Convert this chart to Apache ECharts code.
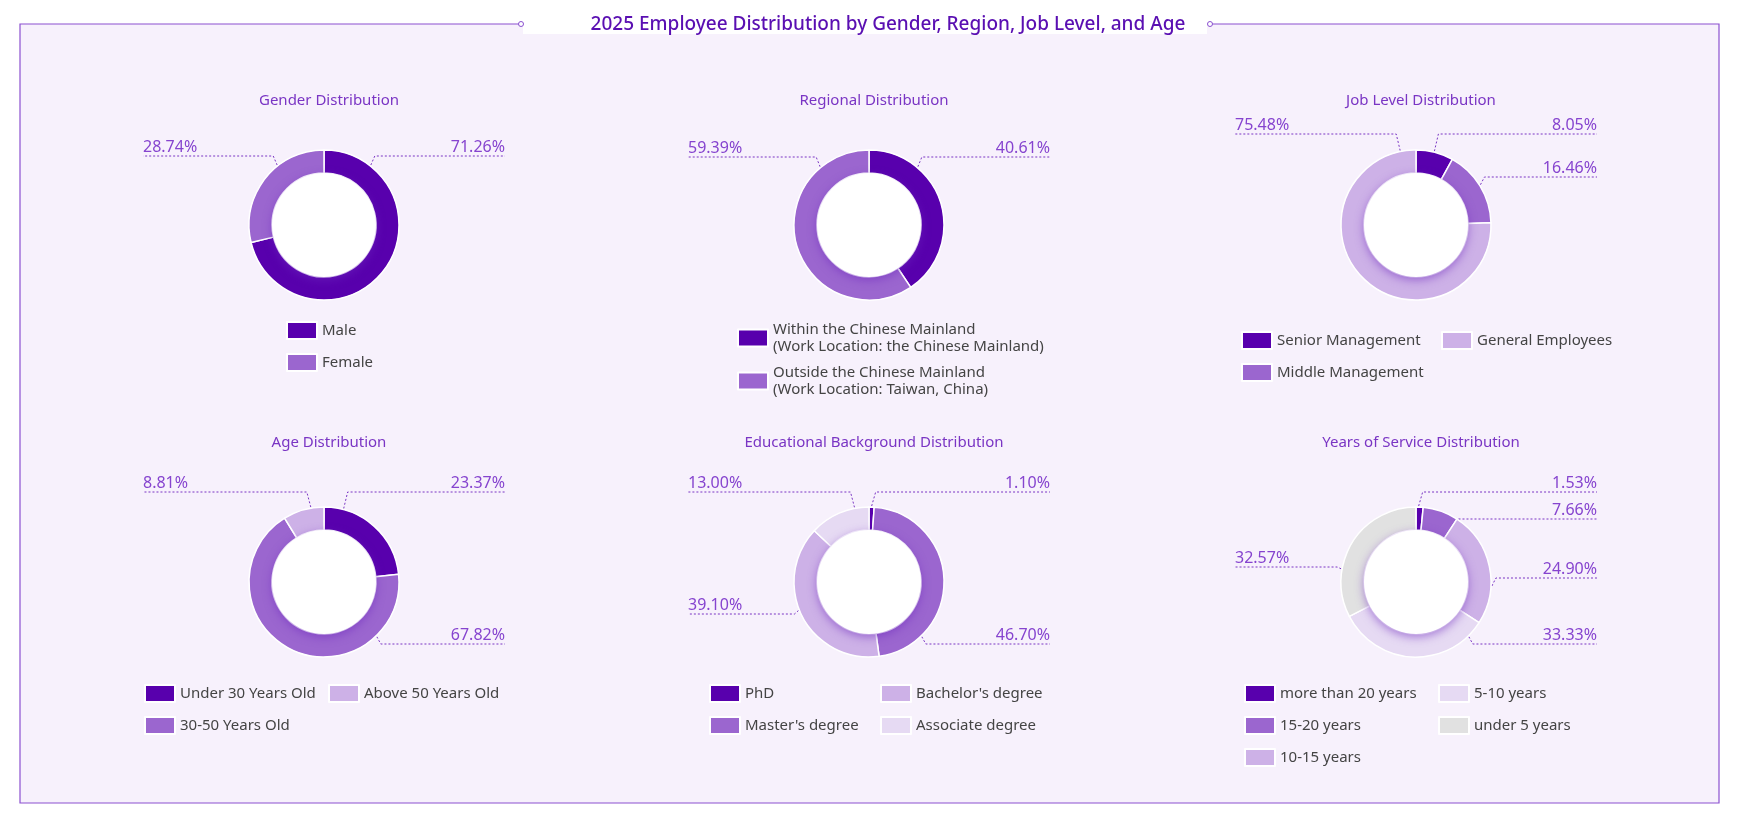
<!DOCTYPE html>
<html><head><meta charset="utf-8">
<script src="https://cdn.jsdelivr.net/npm/echarts@6/dist/echarts.min.js"></script>
<style>html,body{margin:0;padding:0;background:#fff}#c{width:1740px;height:817px}</style>
</head><body><div id="c"></div>
<script>
const mainTitle = '2025 Employee Distribution by Gender, Region, Job Level, and Age';
const genderNames = ['Male', 'Female'];
const genderValues = [71.26, 28.74];
const regionNames = ['Within the Chinese Mainland\n(Work Location: the Chinese Mainland)', 'Outside the Chinese Mainland\n(Work Location: Taiwan, China)'];
const regionValues = [40.61, 59.39];
const jobNames = ['Senior Management', 'Middle Management', 'General Employees'];
const jobValues = [8.05, 16.46, 75.48];
const ageNames = ['Under 30 Years Old', '30-50 Years Old', 'Above 50 Years Old'];
const ageValues = [23.37, 67.82, 8.81];
const eduNames = ['PhD', "Master's degree", "Bachelor's degree", 'Associate degree'];
const eduValues = [1.10, 46.70, 39.10, 13.00];
const serviceNames = ['more than 20 years', '15-20 years', '10-15 years', '5-10 years', 'under 5 years'];
const serviceValues = [1.53, 7.66, 24.90, 33.33, 32.57];

// label anchor placement (style): [angle clockwise from top in degrees, label line y offset from centre]
const genderLabelPos = [[38, -69], [-38, -69]];
const regionLabelPos = [[40, -68], [-40, -68]];
const jobLabelPos = [[14, -91], [58, -48], [-12, -91]];
const ageLabelPos = [[15, -90], [136, 62], [-10, -90]];
const eduLabelPos = [[2, -90], [136, 62], [-112, 32], [-11, -90]];
const serviceLabelPos = [[2, -90], [34, -63], [93, -4], [136, 62], [-80, -15]];

const COLORS = ['#5800ad', '#9b66cf', '#cdb1e7', '#e6daf3', '#e1e1e1'];
const FONT = '"Noto Sans", sans-serif';
const colX = [324, 869, 1416];
const rowY = [225, 582];
const HALF = 181;
const R_IN = 52, R_OUT = 75;

const charts = [
  {title: 'Gender Distribution', names: genderNames, values: genderValues, pos: genderLabelPos, c: 0, r: 0,
   legends: [{names: genderNames, left: 289, top: 324}]},
  {title: 'Regional Distribution', names: regionNames, values: regionValues, pos: regionLabelPos, c: 1, r: 0,
   legends: [{names: regionNames, left: 740, top: 324, gap: 9}]},
  {title: 'Job Level Distribution', names: jobNames, values: jobValues, pos: jobLabelPos, c: 2, r: 0,
   legends: [{names: [jobNames[0], jobNames[1]], left: 1244, top: 334}, {names: [jobNames[2]], left: 1444, top: 334}]},
  {title: 'Age Distribution', names: ageNames, values: ageValues, pos: ageLabelPos, c: 0, r: 1,
   legends: [{names: [ageNames[0], ageNames[1]], left: 147, top: 687}, {names: [ageNames[2]], left: 331, top: 687}]},
  {title: 'Educational Background Distribution', names: eduNames, values: eduValues, pos: eduLabelPos, c: 1, r: 1,
   legends: [{names: [eduNames[0], eduNames[1]], left: 712, top: 687}, {names: [eduNames[2], eduNames[3]], left: 883, top: 687}]},
  {title: 'Years of Service Distribution', names: serviceNames, values: serviceValues, pos: serviceLabelPos, c: 2, r: 1,
   legends: [{names: [serviceNames[0], serviceNames[1], serviceNames[2]], left: 1247, top: 687}, {names: [serviceNames[3], serviceNames[4]], left: 1441, top: 687}]}
];

const title = [{
  text: mainTitle, left: 883, top: 10, textAlign: 'center',
  textStyle: {color: '#5a0fb2', fontSize: 19, fontWeight: 500, fontFamily: FONT}
}];
const series = [];
const legend = [];

charts.forEach(ch => {
  const cx = colX[ch.c], cy = rowY[ch.r];
  title.push({text: ch.title, left: cx, top: ch.r === 0 ? 88 : 430, textAlign: 'center',
    textStyle: {color: '#7a35c4', fontSize: 15, fontWeight: 'normal', fontFamily: FONT}});
  series.push({
    type: 'pie', center: [cx, cy], radius: [R_IN, R_OUT], startAngle: 90, clockwise: true,
    avoidLabelOverlap: false,
    itemStyle: {borderColor: '#fff', borderWidth: 1.5},
    data: ch.names.map((n, i) => ({name: n, value: ch.values[i], itemStyle: {color: COLORS[i]}})),
    label: {show: true, formatter: p => p.value.toFixed(2) + '%', color: '#8644cf', fontSize: 16, fontFamily: FONT},
    labelLine: {show: true, length: 12, length2: 60, lineStyle: {color: '#7a35c4', type: [2, 2], width: 1}},
    labelLayout: function (params) {
      const lp = ch.pos[params.dataIndex];
      const a = lp[0] * Math.PI / 180;
      const left = lp[0] < 0;
      const sx = cx + (R_OUT + 1) * Math.sin(a), sy = cy - (R_OUT + 1) * Math.cos(a);
      const ly = cy + lp[1];
      const ex = left ? cx - HALF : cx + HALF;
      return {x: ex, y: ly - 1, align: left ? 'left' : 'right', verticalAlign: 'bottom',
        labelLinePoints: [[sx, sy], [sx + (left ? -4 : 4), ly], [ex, ly]]};
    },
    emphasis: {disabled: true}
  });
  series.push({
    type: 'pie', center: [cx, cy], radius: [0, R_IN], silent: true, z: 3,
    label: {show: false}, labelLine: {show: false},
    itemStyle: {color: '#fff', shadowBlur: 10, shadowColor: 'rgba(110,40,190,0.55)', shadowOffsetY: 3},
    data: [{value: 1, name: ''}]
  });
  ch.legends.forEach(lg => {
    legend.push({
      data: lg.names, orient: 'vertical', left: lg.left - 8, top: lg.top - 8,
      itemWidth: 30, itemHeight: 17, itemGap: lg.gap !== undefined ? lg.gap : 13, icon: 'rect',
      selectedMode: false,
      textStyle: {color: '#444', fontSize: 15, fontFamily: FONT, lineHeight: 17}
    });
  });
});

const chart = echarts.init(document.getElementById('c'));
chart.setOption({
  backgroundColor: '#ffffff',
  animation: false,
  title, legend, series,
  graphic: [
    {type: 'rect', shape: {x: 20, y: 24, width: 1699, height: 779}, style: {fill: '#f7f1fc', stroke: null}, z: -10, silent: true},
    {type: 'polyline', shape: {points: [[520, 24], [20, 24], [20, 803], [1719, 803], [1719, 24], [1210, 24]]}, style: {stroke: '#8b50d0', lineWidth: 1.2, fill: null}, z: -5, silent: true},
    {type: 'rect', shape: {x: 523, y: 14, width: 684, height: 20}, style: {fill: '#ffffff'}, z: -4, silent: true},
    {type: 'circle', shape: {cx: 521, cy: 24, r: 2.5}, style: {fill: '#fff', stroke: '#8b50d0', lineWidth: 1}, z: -3, silent: true},
    {type: 'circle', shape: {cx: 1210, cy: 24, r: 2.5}, style: {fill: '#fff', stroke: '#8b50d0', lineWidth: 1}, z: -3, silent: true}
  ]
});
</script></body></html>
